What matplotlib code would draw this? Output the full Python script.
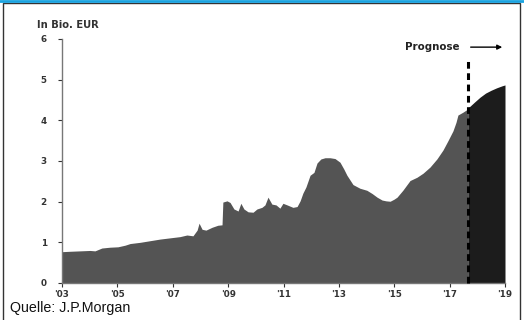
import matplotlib
matplotlib.use("Agg")
import matplotlib.pyplot as plt
from matplotlib.patches import Rectangle
from matplotlib.lines import Line2D

plt.rcParams['font.family'] = ['Liberation Sans', 'DejaVu Sans']

# Historical values (decimal year, Bio. EUR)
hist_years = [2003.00, 2003.29, 2003.65, 2004.01, 2004.19, 2004.44, 2004.73, 2005.02,
              2005.28, 2005.46, 2005.82, 2006.18, 2006.54, 2006.90, 2007.26, 2007.51,
              2007.73, 2007.88, 2007.95, 2008.06, 2008.20, 2008.42, 2008.63, 2008.78,
              2008.81, 2008.96, 2009.07, 2009.21, 2009.36, 2009.46, 2009.57, 2009.72,
              2009.90, 2010.04, 2010.22, 2010.33, 2010.44, 2010.58, 2010.73, 2010.87,
              2010.98, 2011.13, 2011.34, 2011.49, 2011.60, 2011.70, 2011.81, 2011.96,
              2012.10, 2012.21, 2012.35, 2012.50, 2012.68, 2012.86, 2013.04, 2013.18,
              2013.29, 2013.51, 2013.76, 2014.01, 2014.20, 2014.38, 2014.56, 2014.70,
              2014.85, 2014.99, 2015.10, 2015.31, 2015.57, 2015.82, 2016.04, 2016.29,
              2016.54, 2016.76, 2016.94, 2017.12, 2017.23, 2017.30, 2017.48, 2017.66]
hist_values = [0.77, 0.78, 0.79, 0.80, 0.79, 0.86, 0.88, 0.89,
               0.93, 0.97, 1.00, 1.04, 1.08, 1.11, 1.14, 1.18,
               1.16, 1.30, 1.47, 1.32, 1.30, 1.37, 1.42, 1.43,
               1.99, 2.02, 1.98, 1.82, 1.77, 1.96, 1.82, 1.75,
               1.74, 1.82, 1.86, 1.92, 2.11, 1.94, 1.92, 1.84,
               1.96, 1.92, 1.86, 1.88, 2.02, 2.21, 2.36, 2.65,
               2.72, 2.95, 3.05, 3.08, 3.08, 3.06, 2.97, 2.80,
               2.65, 2.42, 2.33, 2.28, 2.20, 2.11, 2.04, 2.02,
               2.01, 2.06, 2.11, 2.28, 2.52, 2.60, 2.70, 2.85,
               3.05, 3.27, 3.50, 3.74, 3.95, 4.13, 4.20, 4.28]

# Forecast values
fc_years = [2017.66, 2017.90, 2018.10, 2018.30, 2018.50, 2018.70, 2018.90, 2019.00]
fc_values = [4.30, 4.45, 4.57, 4.67, 4.74, 4.80, 4.85, 4.87]

xtick_pos = [2003, 2005, 2007, 2009, 2011, 2013, 2015, 2017, 2019]
xtick_labels = ["'03", "'05", "'07", "'09", "'11", "'13", "'15", "'17", "'19"]
ytick_pos = [0, 1, 2, 3, 4, 5, 6]

small_font = ['DejaVu Sans']

fig = plt.figure(figsize=(5.24, 3.20), dpi=100)
ax = fig.add_axes([62/524, 1 - 283/320, (505 - 62)/524, (283 - 39)/320])

ax.fill_between(hist_years, hist_values, 0, color='#545454', linewidth=0)
ax.fill_between(fc_years, fc_values, 0, color='#1c1c1c', linewidth=0)

split = fc_years[0]
ax.plot([split, split], [0, 5.55], color='black', linestyle=(0, (2.2, 1.5)),
        linewidth=2.2, clip_on=False, zorder=5)

ax.annotate('', xy=(2019.0, 5.8), xytext=(split, 5.8),
            arrowprops=dict(arrowstyle='-|>', color='black', lw=1.0,
                            mutation_scale=7), annotation_clip=False)
ax.text(2017.35, 5.8, 'Prognose', ha='right', va='center', fontsize=7.4,
        fontweight='bold', color='#222222', family=small_font)

ax.set_xlim(2003, 2019)
ax.set_ylim(0, 6)
ax.set_xticks(xtick_pos)
ax.set_xticklabels(xtick_labels)
ax.set_yticks(ytick_pos)
ax.tick_params(axis='both', labelsize=6.3, colors='#333333', length=3, width=0.8,
               pad=2)
for lab in ax.get_xticklabels() + ax.get_yticklabels():
    lab.set_fontweight('bold')
    lab.set_family(small_font)
ax.tick_params(axis='y', pad=8)
for s in ['top', 'right']:
    ax.spines[s].set_visible(False)
for s in ['left', 'bottom']:
    ax.spines[s].set_color('#777777')
    ax.spines[s].set_linewidth(1.0)

fig.text(37/524, 1 - 25.5/320, 'In Bio. EUR', fontsize=7.2, fontweight='bold',
         color='#333333', ha='left', va='center', family=small_font)
fig.text(10/524, 1 - 308/320, 'Quelle: J.P.Morgan', fontsize=10.3,
         color='#111111', ha='left', va='center')

# outer frame and top blue line
fig.patches.append(Rectangle((3/524, -0.01), 517/524, 1 - 3/320 + 0.01,
                             transform=fig.transFigure, fill=False,
                             edgecolor='#333333', linewidth=1.0))
fig.lines.append(Line2D([0, 1], [1 - 1/320, 1 - 1/320], transform=fig.transFigure,
                        color='#1aa3e0', linewidth=2.0))

fig.savefig('out.png', dpi=100)
